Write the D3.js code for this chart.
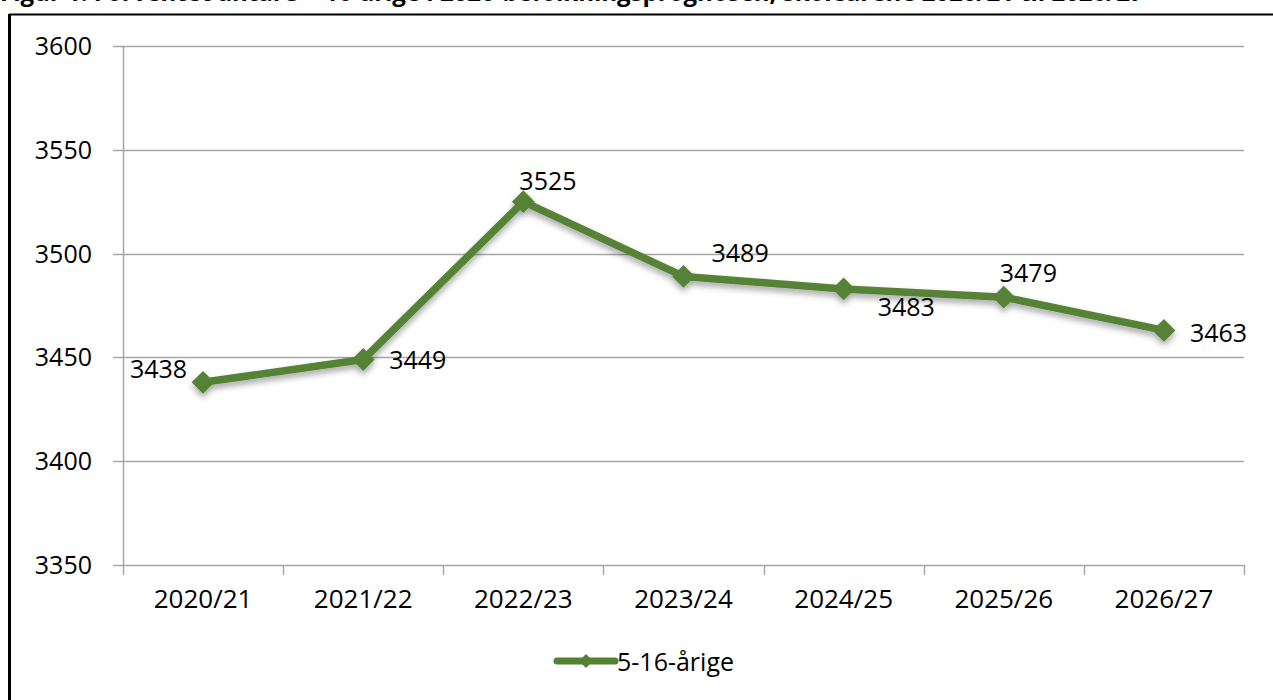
<!DOCTYPE html>
<html><head><meta charset="utf-8">
<script src="https://cdn.jsdelivr.net/npm/d3@7"></script>
<style>
html,body{margin:0;padding:0;background:#fff;overflow:hidden;}
svg{display:block;font-family:"Open Sans",sans-serif;}
</style></head>
<body>
<script>
const categories = ["2020/21","2021/22","2022/23","2023/24","2024/25","2025/26","2026/27"];
const values = [3438,3449,3525,3489,3483,3479,3463];
const seriesName = "5-16-årige";
const yTicks = [3350,3400,3450,3500,3550,3600];
const titleText = "Figur 1: Forventet antal 5 – 16-årige i 2020-befolkningsprognosen, skoleårene 2020/21 til 2026/27";
// label placement relative to point: [dx, dy, anchor]
const labelPos = [[-16,-4,"end"],[26,10,"start"],[-4,-12,"start"],[28,-14,"start"],[34,27,"start"],[-4,-15,"start"],[26,12,"start"]];

const W=1273,H=700;
const svg=d3.select("body").append("svg").attr("width",W).attr("height",H);
const defs=svg.append("defs");
const f=defs.append("filter").attr("id","sh").attr("x","-20%").attr("y","-20%").attr("width","140%").attr("height","160%");
f.append("feDropShadow").attr("dx",0).attr("dy",4).attr("stdDeviation",3).attr("flood-color","#000").attr("flood-opacity",0.35);

// title (clipped at top, as in the reference)
svg.append("text").attr("x",0).attr("y",1).attr("font-family","'Open Sans',sans-serif").attr("font-weight","bold").attr("font-size",24).attr("fill","#000").text(titleText);

// frame
svg.append("line").attr("x1",9).attr("x2",W).attr("y1",14.5).attr("y2",14.5).attr("stroke","#000").attr("stroke-width",2);
svg.append("line").attr("x1",9.5).attr("x2",9.5).attr("y1",14).attr("y2",H).attr("stroke","#000").attr("stroke-width",3);

const pLeft=123,pRight=1244,pTop=46,pBottom=565;
const x=d3.scaleBand().domain(categories).range([pLeft,pRight]).padding(0);
const y=d3.scaleLinear().domain([3350,3600]).range([pBottom,pTop]);

// gridlines
const g=svg.append("g");
g.selectAll("line.grid").data(yTicks).enter().append("line")
 .attr("x1",pLeft-10).attr("x2",pRight).attr("y1",d=>Math.round(y(d))+0.5).attr("y2",d=>Math.round(y(d))+0.5)
 .attr("stroke","#a6a6a6").attr("stroke-width",1.5);
// y axis line
g.append("line").attr("x1",pLeft+0.5).attr("x2",pLeft+0.5).attr("y1",pTop).attr("y2",pBottom+10).attr("stroke","#a6a6a6").attr("stroke-width",1.5);
// x ticks
const xt=categories.map(c=>x(c)).concat([pRight]);
g.selectAll("line.xt").data(xt.slice(1)).enter().append("line")
 .attr("x1",d=>Math.round(d)+0.5).attr("x2",d=>Math.round(d)+0.5).attr("y1",pBottom).attr("y2",pBottom+10)
 .attr("stroke","#a6a6a6").attr("stroke-width",1.5);

// y labels
svg.selectAll("text.yl").data(yTicks).enter().append("text")
 .attr("x",92).attr("y",d=>y(d)+9).attr("text-anchor","end").attr("font-size",25).attr("fill","#000").text(d=>d);
// x labels
svg.selectAll("text.xl").data(categories).enter().append("text")
 .attr("x",d=>x(d)+x.bandwidth()/2).attr("y",pBottom+43).attr("text-anchor","middle").attr("font-size",26).attr("fill","#000").text(d=>d);

const color="#548235";
const pts=categories.map((c,i)=>({c,v:values[i],i}));
const line=d3.line().x(d=>x(d.c)+x.bandwidth()/2).y(d=>y(d.v));
const sg=svg.append("g").attr("filter","url(#sh)");
sg.append("path").datum(pts).attr("d",line).attr("fill","none").attr("stroke",color).attr("stroke-width",7.5).attr("stroke-linejoin","round");
sg.selectAll("path.m").data(pts).enter().append("path")
 .attr("d",d3.symbol().type(d3.symbolSquare).size(260))
 .attr("transform",d=>`translate(${x(d.c)+x.bandwidth()/2},${y(d.v)}) rotate(45)`)
 .attr("fill",color);

// data labels
svg.selectAll("text.dl").data(pts).enter().append("text")
 .attr("x",d=>x(d.c)+x.bandwidth()/2+labelPos[d.i][0])
 .attr("y",d=>y(d.v)+labelPos[d.i][1])
 .attr("text-anchor",d=>labelPos[d.i][2]).attr("font-size",25).attr("fill","#000").text(d=>d.v);

// legend
const lg=svg.append("g").attr("transform","translate(557,661)");
lg.append("line").attr("x1",0).attr("x2",58).attr("y1",0).attr("y2",0).attr("stroke",color).attr("stroke-width",7).attr("stroke-linecap","round");
lg.append("path").attr("d",d3.symbol().type(d3.symbolSquare).size(100)).attr("transform","translate(29,0) rotate(45)").attr("fill",color);
lg.append("text").attr("x",60).attr("y",10).attr("font-size",25).attr("fill","#000").text(seriesName);
</script>
</body></html>
